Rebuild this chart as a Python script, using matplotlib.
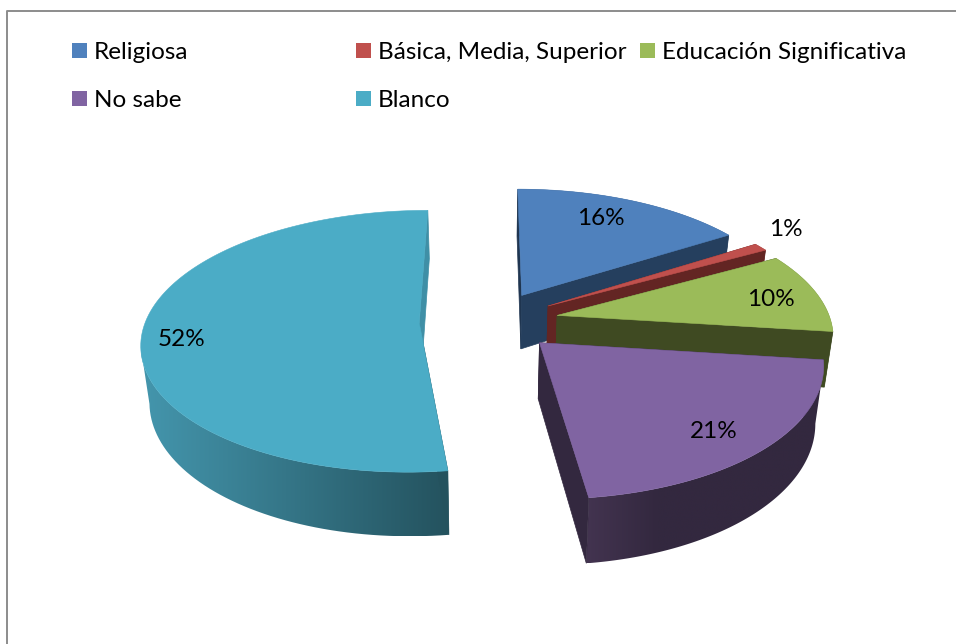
import numpy as np
import matplotlib
matplotlib.use('Agg')
import matplotlib.pyplot as plt
from matplotlib.colors import to_rgb
from matplotlib.patches import Polygon

# data
categories = ['Religiosa', 'Básica, Media, Superior', 'Educación Significativa', 'No sabe', 'Blanco']
values = [16, 1, 10, 21, 52]

# colours: top face, end wall, start wall, outer wall left/right side
top_cols = ['#4f81bd', '#c0504d', '#9bbb59', '#8064a2', '#4bacc6']
end_cols = ['#253f5e', '#632523', '#3f4a22', '#33283f', '#3f8fa6']
start_cols = ['#1f3550', '#632523', '#3f4a22', '#33283f', '#24525e']
rim_left = ['#253f5e', '#632523', '#3f4a22', '#433450', '#4496ad']
rim_right = ['#253f5e', '#632523', '#3f4a22', '#33283f', '#24525e']
rim_reach = [1, 1, 1, 0.3, 1]
draw_order = [4, 0, 1, 2, 3]

# layout in pixels
label_xy = [(601, 218), (786, 229), (771, 299), (714, 431), (182, 339)]
legend_xy = [(72, 43), (356, 43), (640, 43), (72, 91), (356, 91)]
cx, cy = 489, 321
rx, ry = 273.6, 127.8
persp = 0.14
explode_x, explode_y = 0.255, 0.235
depth = 55
taper = 0.025


def project(X, Y, low=False):
    w = 1 + persp * Y
    if low:
        return cx + rx * (1 - taper) * X / w, cy + (depth - ry * Y) / w
    return cx + rx * X / w, cy - ry * Y / w


def rim(apex, t):
    return apex[0] + np.sin(t), apex[1] + np.cos(t)


def wall(p, q, col, ax):
    x0, y0 = project(*p)
    x1, y1 = project(*q)
    x2, y2 = project(*q, low=True)
    x3, y3 = project(*p, low=True)
    ax.fill([x0, x1, x2, x3], [y0, y1, y2, y3], color=col, lw=0.5)


def outer_wall(apex, ts, i, ax):
    X, Y = rim(apex, ts)
    x0, y0 = project(X, Y)
    # only the arc between the left and right extremes faces the viewer
    a, b = sorted([np.argmin(x0), np.argmax(x0)])
    X, Y = X[a:b + 1], Y[a:b + 1]
    x0, y0 = project(X, Y)
    x1, y1 = project(X, Y, low=True)
    xs = np.r_[x0, x1[::-1]]
    ys = np.r_[y0, y1[::-1]]

    # horizontal shading, clipped to the wall outline
    f = np.clip(np.linspace(0, 1, 256) / rim_reach[i], 0, 1)[None, :, None]
    grad = np.array(to_rgb(rim_left[i])) * (1 - f) + np.array(to_rgb(rim_right[i])) * f
    im = ax.imshow(grad, extent=(xs.min(), xs.max(), ys.max(), ys.min()), aspect='auto', interpolation='bilinear')
    im.set_clip_path(Polygon(np.c_[xs, ys], transform=ax.transData))


fig = plt.figure(figsize=(9.56, 6.44), dpi=100)
ax = fig.add_axes([0, 0, 1, 1])
ax.axis('off')

# chart frame
ax.plot([7.5, 7.5, 956], [644, 10.5, 10.5], color='#8c8c8c', lw=1.4)

edges = np.radians(np.cumsum([0] + values) * 3.6)
for i in draw_order:
    t0, t1 = edges[i], edges[i + 1]
    mid = (t0 + t1) / 2
    apex = (explode_x * np.sin(mid), explode_y * np.cos(mid))
    ts = np.linspace(t0, t1, 120)

    wall(apex, rim(apex, t0), start_cols[i], ax)
    wall(apex, rim(apex, t1), end_cols[i], ax)
    outer_wall(apex, ts, i, ax)

    X, Y = rim(apex, ts)
    tx, ty = project(np.r_[apex[0], X], np.r_[apex[1], Y])
    ax.fill(tx, ty, color=top_cols[i], lw=0.4)

plt.rcParams['font.family'] = 'Lato'
for i, v in enumerate(values):
    ax.text(label_xy[i][0], label_xy[i][1], f'{v}%', fontsize=17.5, color='black',
            ha='center', va='center')

for i, name in enumerate(categories):
    x, y = legend_xy[i]
    ax.fill([x, x + 15, x + 15, x], [y, y, y + 15, y + 15], color=top_cols[i], lw=0)
    ax.text(x + 22, y + 7.5, name, fontsize=17.5, color='black', ha='left', va='center_baseline')

ax.set_xlim(0, 956)
ax.set_ylim(644, 0)
fig.savefig('out.png', dpi=100)
